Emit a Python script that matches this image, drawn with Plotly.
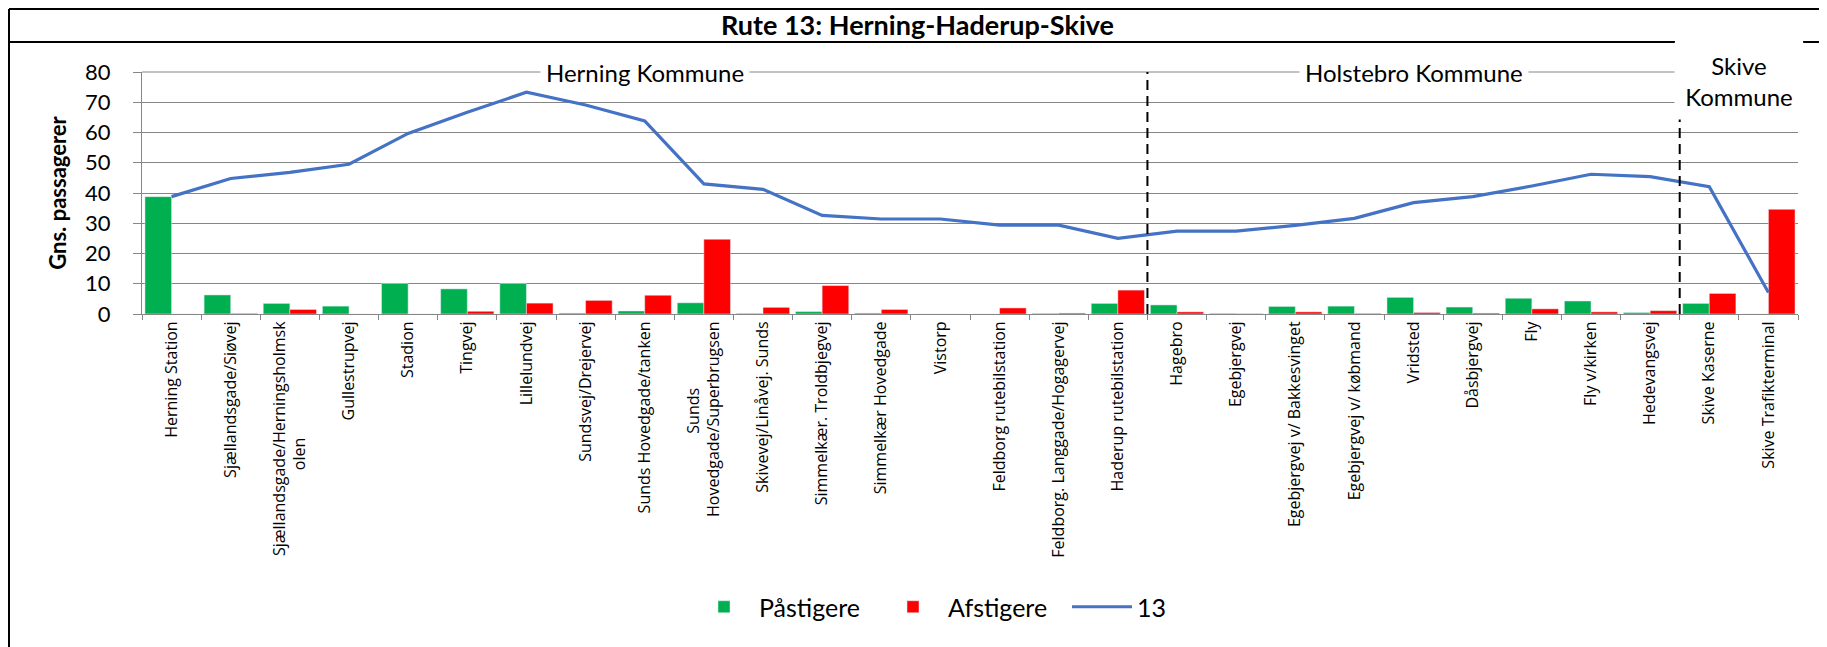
import plotly.graph_objects as go

stops = [
    "Herning Station", "Sjællandsgade/Siøvej", "Sjællandsgade/Herningsholmskolen",
    "Gullestrupvej", "Stadion", "Tingvej", "Lillelundvej", "Sundsvej/Drejervej",
    "Sunds Hovedgade/tanken", "Sunds Hovedgade/Superbrugsen", "Skivevej/Linåvej. Sunds",
    "Simmelkær. Troldbjegvej", "Simmelkær Hovedgade", "Vistorp",
    "Feldborg rutebilstation", "Feldborg. Langgade/Hogagervej", "Haderup rutebilstation",
    "Hagebro", "Egebjergvej", "Egebjergvej v/ Bakkesvinget", "Egebjergvej v/ købmand",
    "Vridsted", "Dåsbjergvej", "Fly", "Fly v/kirken", "Hedevangsvej",
    "Skive Kaserne", "Skive Trafikterminal",
]
NB = "\u00a0"
tick_labels = [
    "Herning Station", "Sjællandsgade/Siøvej", "Sjællandsgade/Herningsholmsk<br>olen" + NB * 28,
    "Gullestrupvej", "Stadion", "Tingvej", "Lillelundvej", "Sundsvej/Drejervej",
    "Sunds Hovedgade/tanken", "Sunds" + NB * 16 + "<br>Hovedgade/Superbrugsen",
    "Skivevej/Linåvej. Sunds",
    "Simmelkær. Troldbjegvej", "Simmelkær Hovedgade", "Vistorp",
    "Feldborg rutebilstation", "Feldborg. Langgade/Hogagervej", "Haderup rutebilstation",
    "Hagebro", "Egebjergvej", "Egebjergvej v/ Bakkesvinget", "Egebjergvej v/ købmand",
    "Vridsted", "Dåsbjergvej", "Fly", "Fly v/kirken", "Hedevangsvej",
    "Skive Kaserne", "Skive Trafikterminal",
]
paastigere = [38.8, 6.3, 3.5, 2.6, 10.1, 8.3, 10.1, 0.3, 1.0, 3.7, 0.2, 0.8, 0.3, 0.0,
              0.0, 0.2, 3.5, 3.0, 0.2, 2.5, 2.6, 5.5, 2.3, 5.2, 4.3, 0.5, 3.5, 0.0]
afstigere = [0.0, 0.2, 1.5, 0.0, 0.0, 0.9, 3.6, 4.5, 6.2, 24.7, 2.2, 9.4, 1.5, 0.0,
             2.0, 0.3, 7.9, 0.7, 0.1, 0.7, 0.2, 0.5, 0.3, 1.7, 0.7, 1.1, 6.8, 34.6]
belastning = [38.8, 44.8, 46.8, 49.5, 59.7, 66.7, 73.3, 69.1, 63.8, 43.0, 41.2, 32.6, 31.4,
              31.4, 29.4, 29.4, 25.0, 27.4, 27.4, 29.3, 31.6, 36.8, 38.8, 42.3, 46.2, 45.4,
              42.1, 7.1]
y_ticks = [0, 10, 20, 30, 40, 50, 60, 70, 80]

FONT = "Lato"
# the page body has an 8px default margin, so the figure is offset by 8px
OFF = 8
PAGE_W, PAGE_H = 1827, 647
W, H = PAGE_W - OFF, PAGE_H - OFF
PLOT_L, PLOT_R, PLOT_T, PLOT_B = 142, 1798, 72, 314   # plot area in page pixels
L, T = PLOT_L - OFF, PLOT_T - OFF
PW, PH = PLOT_R - PLOT_L, PLOT_B - PLOT_T
R, B = W - L - PW, H - T - PH

def px(x):  # page pixel -> paper x
    return (x - PLOT_L) / PW

def py(y):  # page pixel -> paper y
    return (PLOT_B - y) / PH

fig = go.Figure()
fig.add_trace(go.Bar(x=stops, y=paastigere, name="Påstigere", marker_color="#00B050"))
fig.add_trace(go.Bar(x=stops, y=afstigere, name="Afstigere", marker_color="#FF0000"))
fig.add_trace(go.Scatter(x=stops, y=belastning, name="13", mode="lines",
                         line=dict(color="#4472C4", width=3.2)))

frame = dict(color="black", width=2)
shapes = [
    # top gridline (80), drawn unclipped
    dict(type="line", xref="paper", yref="paper", x0=0, x1=1, y0=1, y1=1,
         line=dict(color="#868686", width=1)),
    # outer frame
    dict(type="line", xref="paper", yref="paper", x0=px(9), x1=px(PAGE_W), y0=py(9), y1=py(9),
         line=frame),
    dict(type="line", xref="paper", yref="paper", x0=px(9), x1=px(9), y0=py(9), y1=py(PAGE_H),
         line=frame),
    dict(type="line", xref="paper", yref="paper", x0=px(9), x1=px(1675), y0=py(42), y1=py(42),
         line=frame),
    dict(type="line", xref="paper", yref="paper", x0=px(1803), x1=px(PAGE_W), y0=py(42), y1=py(42),
         line=frame),
    # municipality dividers
    dict(type="line", xref="x", yref="y", x0=16.5, x1=16.5, y0=0, y1=80,
         line=dict(color="black", width=2, dash="10px,6px")),
    dict(type="line", xref="x", yref="y", x0=25.5, x1=25.5, y0=0, y1=65,
         line=dict(color="black", width=2, dash="10px,6px")),
]

annotations = [
    dict(x=8, y=80, xref="x", yref="y", text="Herning Kommune", showarrow=False,
         font=dict(family=FONT, size=24, color="black"), bgcolor="white", borderpad=5),
    dict(x=21, y=80, xref="x", yref="y", text="Holstebro Kommune", showarrow=False,
         font=dict(family=FONT, size=24, color="black"), bgcolor="white", borderpad=5),
    dict(x=26.5, y=py(81), xref="x", yref="paper", text="Skive<br>Kommune", showarrow=False,
         font=dict(family=FONT, size=24, color="black"), bgcolor="white",
         width=122, height=70, borderpad=3, yanchor="middle"),
]

fig.update_layout(
    width=W, height=H,
    margin=dict(l=L, r=R, t=T, b=B),
    paper_bgcolor="white", plot_bgcolor="white",
    font=dict(family=FONT, color="black"),
    title=dict(text="<b>Rute 13: Herning-Haderup-Skive</b>", x=0.5, xanchor="center",
               y=1 - (26 - OFF) / H, yanchor="middle",
               font=dict(family=FONT, size=27, color="black")),
    barmode="group", bargap=0.1, bargroupgap=0,
    showlegend=True,
    legend=dict(orientation="h", x=px(689), xanchor="left", y=py(607), yanchor="middle",
                font=dict(family=FONT, size=25, color="black"), itemwidth=60,
                entrywidth=114, entrywidthmode="pixels",
                bgcolor="rgba(0,0,0,0)"),
    shapes=shapes, annotations=annotations,
)
fig.update_xaxes(
    type="category", categoryorder="array", categoryarray=stops,
    range=[-0.5, 27.5], tickmode="array", tickvals=stops, ticktext=tick_labels,
    tickangle=-90, tickfont=dict(family="Open Sans", size=16, color="black"),
    showline=True, linecolor="#868686", linewidth=1,
    ticks="outside", tickson="boundaries", ticklen=5, tickcolor="#868686",
    showgrid=False, zeroline=False,
)
fig.update_yaxes(
    range=[0, 80], tickvals=y_ticks, tickfont=dict(family=FONT, size=22, color="black"),
    showgrid=True, gridcolor="#868686", gridwidth=1,
    showline=True, linecolor="#868686", linewidth=1,
    ticks="outside", ticklen=8, tickcolor="#868686", ticklabelstandoff=18,
    zeroline=False,
    title=dict(text="<b>Gns. passagerer</b>", font=dict(family=FONT, size=22, color="black"),
               standoff=12),
)

fig.write_html("out.html")
